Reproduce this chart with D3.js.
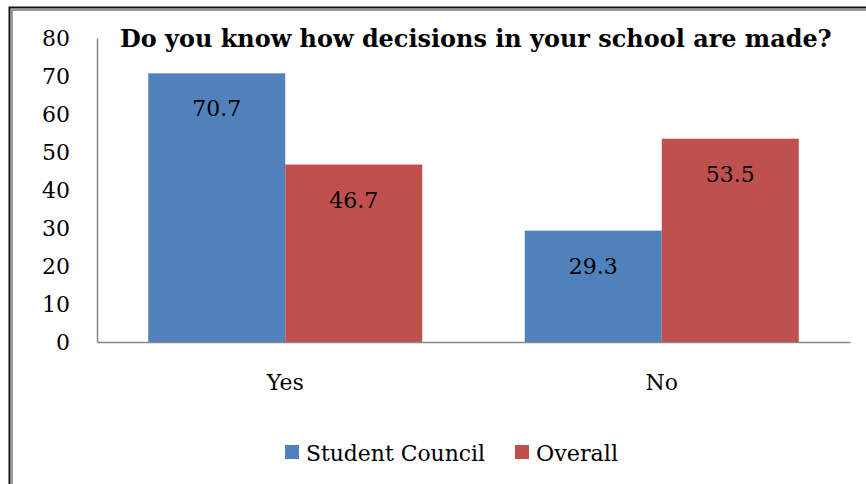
<!DOCTYPE html>
<html>
<head>
<meta charset="utf-8">
<script src="https://cdn.jsdelivr.net/npm/d3@7"></script>
<style>
  html, body { margin: 0; padding: 0; background: #fff; }
  svg { display: block; }
</style>
</head>
<body>
<svg id="chart" width="866" height="484"></svg>
<script>
// Survey answers, percent of respondents
const categories = ["Yes", "No"];
const seriesNames = ["Student Council", "Overall"];
const studentCouncil = [70.7, 29.3];
const overall = [46.7, 53.5];
const yTicks = [0, 10, 20, 30, 40, 50, 60, 70, 80];
const title = "Do you know how decisions in your school are made?";

const colors = { "Student Council": "#4F81BD", "Overall": "#C0504D" };
const valuesBySeries = { "Student Council": studentCouncil, "Overall": overall };
const FONT = "'DejaVu Serif', 'Liberation Serif', serif";

const svg = d3.select("#chart");

// size a text element so that it spans the given width
function fitWidth(sel, width) {
  const node = sel.node();
  const size = parseFloat(sel.attr("font-size"));
  const w = node.getComputedTextLength();
  if (w > 0) sel.attr("font-size", (size * width / w).toFixed(2));
  return sel;
}

// outer frame: dark rule with a grey rule inside it
svg.append("rect").attr("x", 9.5).attr("y", 7.5).attr("width", 900).attr("height", 520)
  .attr("fill", "none").attr("stroke", "#111").attr("stroke-width", 2);
svg.append("rect").attr("x", 12).attr("y", 10).attr("width", 900).attr("height", 520)
  .attr("fill", "none").attr("stroke", "#9a9a9a").attr("stroke-width", 2);

const plot = { left: 97, right: 850, top: 38, bottom: 342 };

const x0 = d3.scaleBand().domain(categories).range([plot.left, plot.right]).padding(0);
const x1 = d3.scaleBand().domain(seriesNames).range([0, x0.bandwidth()])
  .paddingInner(0).paddingOuter(0.374);
const y = d3.scaleLinear().domain([0, 80]).range([plot.bottom, plot.top]);

// bars
const rows = categories.map((c, i) => ({
  cat: c,
  items: seriesNames.map(s => ({ series: s, value: valuesBySeries[s][i] }))
}));

const groups = svg.append("g").selectAll("g").data(rows).join("g")
  .attr("transform", d => `translate(${x0(d.cat)},0)`);

groups.selectAll("rect").data(d => d.items).join("rect")
  .attr("x", d => x1(d.series))
  .attr("y", d => y(d.value))
  .attr("width", x1.bandwidth())
  .attr("height", d => y(0) - y(d.value))
  .attr("fill", d => colors[d.series]);

// value labels inside the bar tops
groups.selectAll("text.val").data(d => d.items).join("text")
  .attr("class", "val")
  .attr("x", d => x1(d.series) + x1.bandwidth() / 2)
  .attr("y", d => y(d.value) + 43)
  .attr("text-anchor", "middle")
  .attr("font-family", FONT)
  .attr("font-size", 22)
  .attr("fill", "#000")
  .text(d => d.value.toFixed(1));

// axes
const yAxis = svg.append("g").attr("transform", `translate(${plot.left},0)`)
  .call(d3.axisLeft(y).tickValues(yTicks).tickSize(0).tickPadding(27));
yAxis.attr("font-family", FONT).attr("font-size", 22);
yAxis.select(".domain").attr("stroke", "#888").attr("stroke-width", 1.5);
yAxis.selectAll("text").attr("fill", "#000");

const xAxis = svg.append("g").attr("transform", `translate(0,${plot.bottom})`)
  .call(d3.axisBottom(x0).tickSize(0).tickPadding(32));
xAxis.attr("font-family", FONT).attr("font-size", 22);
xAxis.select(".domain").attr("stroke", "#888").attr("stroke-width", 1.5);
xAxis.selectAll("text").attr("fill", "#000");

// title
const titleText = svg.append("text").attr("x", 120).attr("y", 47)
  .attr("font-family", FONT).attr("font-size", 22).attr("font-weight", "bold")
  .attr("fill", "#000")
  .text(title);
fitWidth(titleText, 712);

// legend
const legendItems = [
  { name: "Student Council", sx: 285, tx: 306, w: 179 },
  { name: "Overall", sx: 515, tx: 536, w: 82 }
];
const legend = svg.append("g");
legend.selectAll("rect").data(legendItems).join("rect")
  .attr("x", d => d.sx).attr("y", 445).attr("width", 14).attr("height", 14)
  .attr("fill", d => colors[d.name]);
legend.selectAll("text").data(legendItems).join("text")
  .attr("x", d => d.tx).attr("y", 461)
  .attr("font-family", FONT).attr("font-size", 22).attr("fill", "#000")
  .text(d => d.name)
  .each(function (d) { fitWidth(d3.select(this), d.w); });
</script>
</body>
</html>
